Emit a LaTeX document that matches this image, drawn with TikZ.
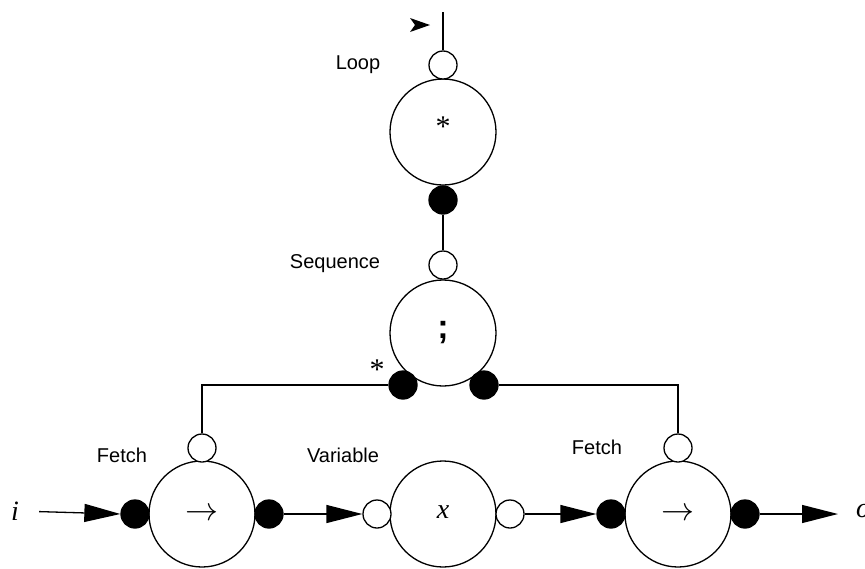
\documentclass[tikz,border=0pt]{standalone}
\usepackage{graphicx}
\usepackage{fontspec}
\setsansfont{Liberation Sans}
\newfontfamily\tms{Liberation Serif}
\usetikzlibrary{arrows.meta,backgrounds}

\begin{document}
\begin{tikzpicture}[x=1pt,y=-1pt,
  big/.style={circle,draw,line width=1.3pt,fill=white,minimum size=106pt,inner sep=0pt},
  port/.style={circle,draw,line width=1.3pt,fill=white,minimum size=28pt,inner sep=0pt},
  bport/.style={circle,draw,fill=black,line width=1.3pt,minimum size=28pt,inner sep=0pt},
  lbl/.style={font=\sffamily\fontsize{20}{24}\selectfont,inner sep=0pt},
  sym/.style={font=\tms\fontsize{30}{34}\selectfont,inner sep=0pt},
  ital/.style={font=\tms\itshape\fontsize{28}{32}\selectfont,inner sep=0pt},
  wire/.style={line width=1.3pt},
  flow/.style={wire,-{Triangle[length=36pt,width=18pt]}}]
\useasboundingbox (0,0) rectangle (865,568);

% Loop operator
\node[big] (loop) at (443,132) {};
\node[sym] (loopsym) at (443,127) {*};
\node[port] (loopin) at (443,65) {};
\node[bport] (loopout) at (443,200) {};
\coordinate (top) at (443,12);
\node[lbl] (looplbl) at (358,65) {Loop};
\fill (410,18) -- (430,25) -- (410,32) -- (415,25) -- cycle;

% Sequence operator
\node[big] (seq) at (443,333) {\sffamily\bfseries\fontsize{34}{38}\selectfont ;};
\node[port] (seqin) at (443,265) {};
\node[bport] (seqL) at (403,385) {};
\node[bport] (seqR) at (484,385) {};
\node[lbl] (seqlbl) at (335,264) {Sequence};
\node[sym] (star) at (377,370) {*};

% Bottom row: fetch, variable, fetch
\node[big] (f1) at (202,514) {};
\node[inner sep=0pt] (f1sym) at (202,514) {\scalebox{3.3}{$\rightarrow$}};
\node[port] (f1in) at (202,448) {};
\node[bport] (f1L) at (135,514) {};
\node[bport] (f1R) at (269,514) {};
\node[lbl] (f1lbl) at (122,455) {Fetch};

\node[big] (var) at (443,514) {};
\node[ital] (varsym) at (443,512) {x};
\node[port] (varL) at (377,514) {};
\node[port] (varR) at (510,514) {};
\node[lbl] (varlbl) at (343,455) {Variable};

\node[big] (f2) at (678,514) {};
\node[inner sep=0pt] (f2sym) at (678,514) {\scalebox{3.3}{$\rightarrow$}};
\node[port] (f2in) at (678,448) {};
\node[bport] (f2L) at (611,514) {};
\node[bport] (f2R) at (745,514) {};
\node[lbl] (f2lbl) at (597,447) {Fetch};

\node[ital] (inp) at (15,511) {i};
\node[ital,anchor=west] (outp) at (856,511) {o};
\coordinate (outend) at (838,514);

\begin{scope}[on background layer]
  \draw[wire] (top) -- (loopin.north);
  \draw[wire] (loopout) -- (seqin);
  \draw[wire] (f1in.north) |- (seqL);
  \draw[wire] (f2in.north) |- (seqR);
\end{scope}

\draw[flow,shorten <=20pt] (inp.east) -- (f1L.west);
\draw[flow] (f1R.east) -- (varL.west);
\draw[flow] (varR.east) -- (f2L.west);
\draw[flow] (f2R.east) -- (outend);
\end{tikzpicture}
\end{document}
